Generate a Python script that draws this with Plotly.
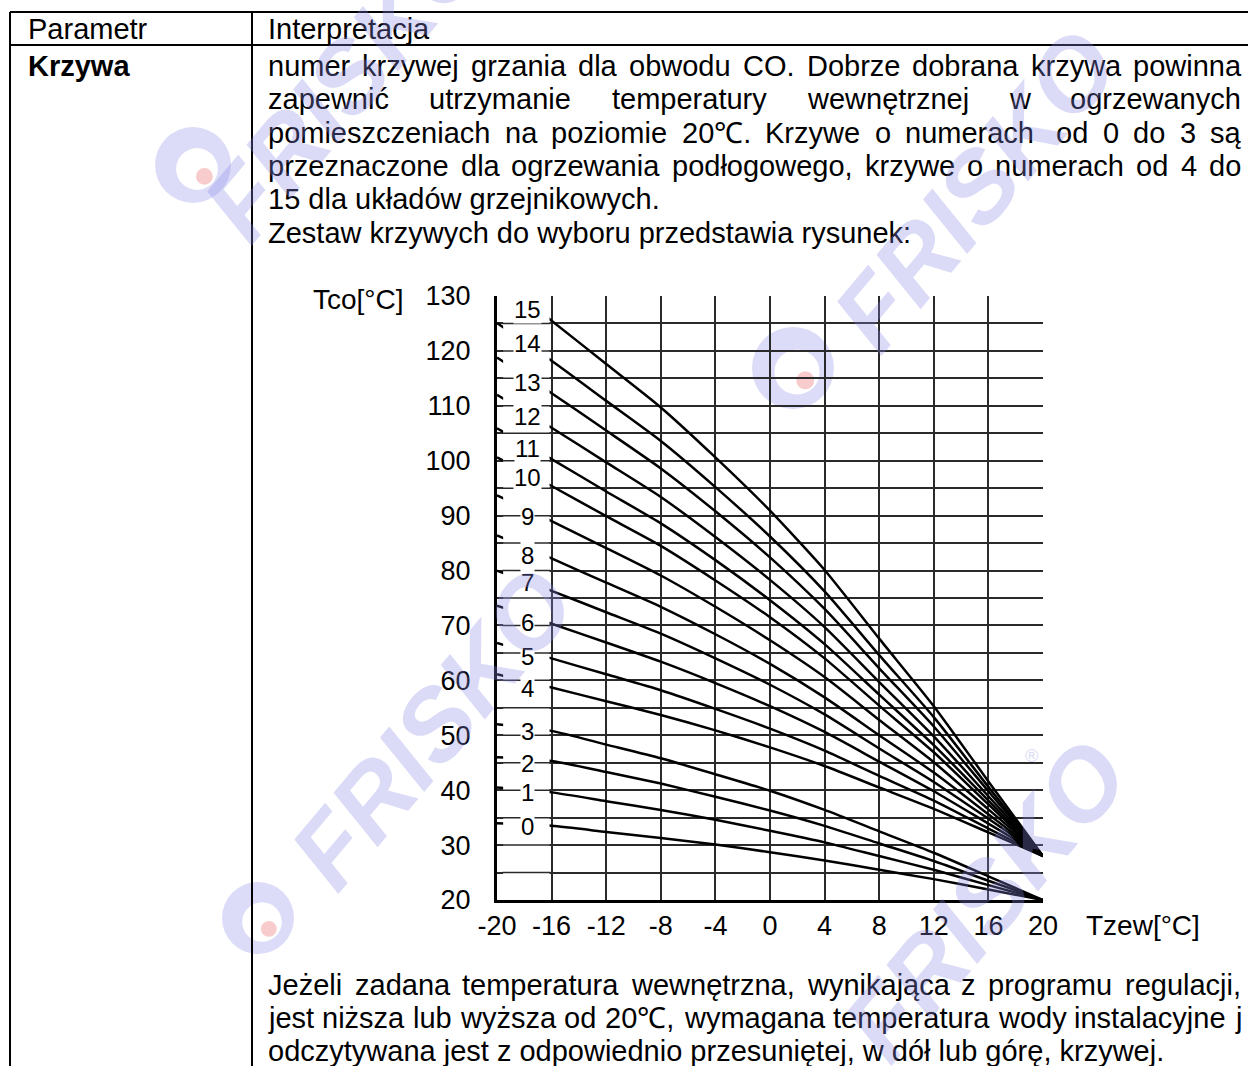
import re
import plotly.graph_objects as go

# ---------------- data ----------------
t_out = [-20, -16, -12, -8, -4, 0, 4, 8, 12, 16, 20]
c15 = [133.0, 125.5, 117.6, 109.7, 100.6, 90.9, 80.1, 67.6, 55.3, 41.6, 28.0]
c14 = [125.1, 118.2, 110.9, 103.6, 95.2, 86.2, 76.2, 64.6, 53.3, 40.6, 28.0]
c13 = [118.8, 112.3, 105.5, 98.6, 90.8, 82.4, 73.0, 62.2, 51.6, 39.8, 28.0]
c12 = [112.0, 106.0, 99.7, 93.4, 86.1, 78.3, 69.7, 59.7, 49.8, 38.9, 28.0]
c11 = [105.9, 100.3, 94.4, 88.6, 81.9, 74.6, 66.6, 57.4, 48.2, 38.1, 28.0]
c10 = [100.6, 95.4, 89.9, 84.5, 78.2, 71.5, 64.0, 55.4, 46.9, 37.4, 28.0]
c9 = [93.7, 89.0, 84.1, 79.1, 73.4, 67.3, 60.6, 52.8, 45.1, 36.5, 28.0]
c8 = [86.4, 82.2, 77.8, 73.4, 68.4, 63.0, 56.9, 50.0, 43.2, 35.6, 28.0]
c7 = [80.0, 76.3, 72.4, 68.5, 64.0, 59.2, 53.8, 47.6, 41.5, 34.8, 28.0]
c6 = [73.6, 70.3, 66.9, 63.4, 59.5, 55.3, 50.6, 45.2, 39.8, 33.9, 28.0]
c5 = [66.8, 64.0, 61.1, 58.2, 54.8, 51.2, 47.2, 42.6, 38.1, 33.0, 28.0]
c4 = [61.1, 58.7, 56.2, 53.7, 50.9, 47.8, 44.4, 40.5, 36.6, 32.3, 28.0]
c3 = [52.0, 50.8, 48.3, 45.8, 42.9, 39.9, 36.4, 32.5, 28.6, 24.3, 20.0]
c2 = [46.0, 45.3, 43.3, 41.2, 38.8, 36.3, 33.5, 30.3, 27.1, 23.5, 20.0]
c1 = [40.5, 39.6, 38.0, 36.4, 34.6, 32.6, 30.5, 28.0, 25.5, 22.7, 20.0]
c0 = [34.0, 33.5, 32.4, 31.3, 30.1, 28.7, 27.2, 25.5, 23.8, 21.9, 20.0]
curve_names = ["0", "1", "2", "3", "4", "5", "6", "7", "8", "9", "10", "11", "12", "13", "14", "15"]
curve_label_y = [33.3, 39.5, 44.9, 50.6, 58.6, 64.3, 70.6, 77.9, 82.7, 89.8, 97.0, 102.3, 108.0, 114.2, 121.4, 127.6]
curve_label_x = -17.8

x_ticks = [-20, -16, -12, -8, -4, 0, 4, 8, 12, 16, 20]
x_tick_text = ["-20", "-16", "-12", "-8", "-4", "0", "4", "8", "12", "16", "20"]
y_ticks = [20, 30, 40, 50, 60, 70, 80, 90, 100, 110, 120, 130]
y_minor_grid = [25, 30, 35, 40, 45, 50, 55, 60, 65, 70, 75, 80, 85, 90, 95, 100, 105, 110, 115, 120, 125]

header_left = "Parametr"
header_right = "Interpretacja"
row_name = "Krzywa"
text_justified_top = [
    "numer krzywej grzania dla obwodu CO. Dobrze dobrana krzywa powinna",
    "zapewnić utrzymanie temperatury wewnętrznej w ogrzewanych",
    "pomieszczeniach na poziomie 20℃. Krzywe o numerach  od 0 do 3 są",
    "przeznaczone dla ogrzewania podłogowego, krzywe o numerach od 4 do",
]
text_plain_top = [
    "15 dla układów grzejnikowych.",
    "Zestaw krzywych do wyboru przedstawia rysunek:",
]
text_justified_bottom = [
    "Jeżeli zadana temperatura wewnętrzna, wynikająca z programu regulacji,",
    "jest niższa lub wyższa od 20℃, wymagana temperatura wody instalacyjne j",
]
text_plain_bottom = ["odczytywana jest z odpowiednio przesuniętej, w dół lub górę, krzywej."]

watermark_text = "FRISKO"

# ---------------- layout helpers ----------------
W, H = 1248, 1066
FONT = "Liberation Sans, Arial, sans-serif"
TXT = 29


def px(x):
    return x / W


def py(y):
    return 1 - y / H


AW = {' ': 278, ',': 278, '.': 278, ':': 278, ';': 278, '-': 333, '℃': 1000}
for ch in "0123456789":
    AW[ch] = 556
AW.update(dict(a=556, b=556, c=500, d=556, e=556, f=278, g=556, h=556, i=222, j=222, k=500, l=222,
               m=833, n=556, o=556, p=556, q=556, r=333, s=500, t=278, u=556, v=500, w=722, x=500,
               y=500, z=500))
AW.update({'ą': 556, 'ć': 500, 'ę': 556, 'ł': 222, 'ń': 556, 'ó': 556, 'ś': 500, 'ź': 500, 'ż': 500,
           'C': 722, 'O': 778, 'D': 722, 'K': 667, 'J': 500, 'Z': 611})


def tw(s, size=TXT):
    return sum(AW.get(ch, 556) for ch in s) / 1000 * size


annotations = []


def add_text(text, x, y, anchor="left", size=TXT):
    annotations.append(dict(text=text, x=px(x), y=py(y), xref="paper", yref="paper",
                            xanchor=anchor, yanchor="middle", showarrow=False,
                            font=dict(family=FONT, size=size, color="black"), borderpad=0))


def add_justified(line, y, x0, x1):
    parts = re.split(r'( +)', line)
    words = parts[0::2]
    spaces = parts[1::2]
    nat = sum(tw(w) for w in words)
    extra = sum(len(s) - 1 for s in spaces) * tw(' ')
    gap = (x1 - x0 - nat - extra) / len(spaces)
    x = x0
    for i, w in enumerate(words):
        add_text(w, x, y)
        x += tw(w)
        if i < len(spaces):
            x += gap + (len(spaces[i]) - 1) * tw(' ')


X0, X1 = 267, 1240
add_text(header_left, 27, 29)
add_text(header_right, X0, 29)
add_text("<b>" + row_name + "</b>", 27, 66)
yy = 66
for line in text_justified_top:
    add_justified(line, yy, X0, X1)
    yy += 33.3
for line in text_plain_top:
    add_text(line, X0, yy)
    yy += 33.3
yb = 985
for line in text_justified_bottom:
    add_justified(line, yb, X0, X1)
    yb += 33
for line in text_plain_bottom:
    add_text(line, X0, yb)
    yb += 33

add_text("Tco[°C]", 405, 300, anchor="right", size=28)
add_text("Tzew[°C]", 1085, 925, anchor="left", size=28)

for name, ly in zip(curve_names, curve_label_y):
    annotations.append(dict(text=name, x=curve_label_x, y=ly, xref="x", yref="y",
                            xanchor="center", yanchor="middle", showarrow=False,
                            font=dict(family=FONT, size=24, color="black"),
                            bgcolor="white", borderpad=0))

# faint "FRISKO" watermarks (decoration, page positions)
WM_COLOR = "#8a8ae8"
for (cx, cy) in [(345, 80), (975, 190), (432, 728), (985, 900)]:
    annotations.append(dict(text="<b><i>" + watermark_text + "</i></b>", x=px(cx), y=py(cy),
                            xref="paper", yref="paper", xanchor="center", yanchor="middle",
                            showarrow=False, textangle=-50, opacity=0.3,
                            font=dict(family=FONT, size=100, color=WM_COLOR)))
annotations.append(dict(text="®", x=px(1040), y=py(768), xref="paper", yref="paper",
                        showarrow=False, opacity=0.3, font=dict(family=FONT, size=18, color=WM_COLOR)))

# ---------------- figure ----------------
fig = go.Figure()
all_curves = [c0, c1, c2, c3, c4, c5, c6, c7, c8, c9, c10, c11, c12, c13, c14, c15]
for name, vals in zip(curve_names, all_curves):
    fig.add_trace(go.Scatter(x=t_out, y=vals, mode="lines", name=name,
                             line=dict(color="black", width=2.5, shape="spline", smoothing=0.6),
                             showlegend=False, hoverinfo="skip"))

GRID = "#2a2a2a"
shapes = []
for (cx, cy, r) in [(193, 165, 38), (793, 368, 41), (258, 918, 36)]:
    shapes.append(dict(type="circle", xref="paper", yref="paper", layer="below",
                       x0=px(cx - r), x1=px(cx + r), y0=py(cy + r), y1=py(cy - r),
                       fillcolor="#dcdcf8", line=dict(width=0)))
    ri = r * 0.55
    shapes.append(dict(type="circle", xref="paper", yref="paper", layer="below",
                       x0=px(cx + 4 - ri), x1=px(cx + 4 + ri), y0=py(cy + 4 + ri), y1=py(cy + 4 - ri),
                       fillcolor="white", line=dict(width=0)))
    rb = r * 0.22
    shapes.append(dict(type="circle", xref="paper", yref="paper", layer="below",
                       x0=px(cx + 0.3 * r - rb), x1=px(cx + 0.3 * r + rb),
                       y0=py(cy + 0.3 * r + rb), y1=py(cy + 0.3 * r - rb),
                       fillcolor="#f8cccc", line=dict(width=0)))
LW = 2
shapes.append(dict(type="line", xref="paper", yref="paper", x0=px(10), x1=1, y0=py(12), y1=py(12),
                   line=dict(color="black", width=LW)))
shapes.append(dict(type="line", xref="paper", yref="paper", x0=px(10), x1=1, y0=py(45), y1=py(45),
                   line=dict(color="black", width=LW)))
shapes.append(dict(type="line", xref="paper", yref="paper", x0=px(10), x1=px(10), y0=py(12), y1=0,
                   line=dict(color="black", width=LW)))
shapes.append(dict(type="line", xref="paper", yref="paper", x0=px(252), x1=px(252), y0=py(12), y1=0,
                   line=dict(color="black", width=LW)))
shapes.append(dict(type="rect", xref="x", yref="y", x0=-19.55, x1=-16.15, y0=20.4, y1=129.7,
                   fillcolor="white", line=dict(width=0), layer="above"))
for gy in y_minor_grid:
    shapes.append(dict(type="line", xref="x", yref="y", x0=-19.6, x1=-16.1, y0=gy, y1=gy,
                       line=dict(color=GRID, width=1.5), layer="above"))

fig.update_layout(
    width=W, height=H, margin=dict(l=0, r=0, t=0, b=0, autoexpand=False),
    paper_bgcolor="white", plot_bgcolor="rgba(0,0,0,0)",
    shapes=shapes, annotations=annotations, showlegend=False,
    xaxis=dict(domain=[px(497), px(1043)], range=[-20, 20], tickvals=x_ticks, ticktext=x_tick_text,
               showgrid=True, gridcolor=GRID, gridwidth=1.5, zeroline=False,
               showline=True, linecolor="black", linewidth=3, ticks="",
               tickfont=dict(family=FONT, size=27, color="black"), ticklabelstandoff=0, fixedrange=True),
    yaxis=dict(domain=[py(900), py(296)], range=[20, 130], tickvals=y_ticks,
               showgrid=True, gridcolor=GRID, gridwidth=1.5, zeroline=False,
               minor=dict(tickvals=y_minor_grid, showgrid=True, gridcolor=GRID, gridwidth=1.5, ticks=""),
               showline=True, linecolor="black", linewidth=3, ticks="",
               tickfont=dict(family=FONT, size=27, color="black"), ticklabelstandoff=18, fixedrange=True),
)

fig.write_html("out.html", config={"displayModeBar": False},
               post_script="document.body.style.margin='0';document.body.style.padding='0';document.documentElement.style.overflow='hidden';")
